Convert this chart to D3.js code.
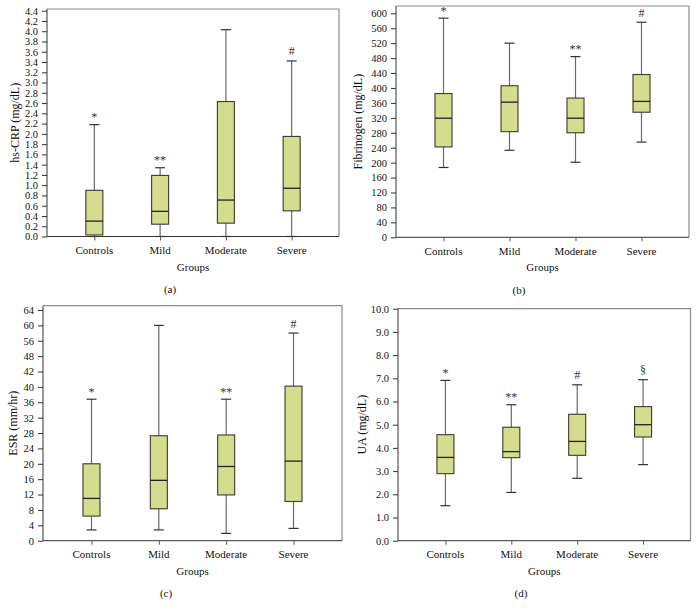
<!DOCTYPE html>
<html><head><meta charset="utf-8">
<script src="https://cdn.jsdelivr.net/npm/d3@7"></script>
<style>
body{margin:0;background:#fff;}
svg{display:block;font-family:"Liberation Serif","DejaVu Serif",serif;}
</style></head>
<body><svg id="c" width="698" height="614"></svg>
<script>
const groups = ["Controls","Mild","Moderate","Severe"];

// (a) hs-CRP
const crpMin = [0, 0, 0, 0];
const crpQ1  = [0.03, 0.24, 0.26, 0.50];
const crpMed = [0.30, 0.49, 0.71, 0.94];
const crpQ3  = [0.90, 1.19, 2.63, 1.95];
const crpMax = [2.18, 1.34, 4.03, 3.42];
const crpMarks = ["*", "**", "", "#"];
const crpTicks = [0,0.2,0.4,0.6,0.8,1.0,1.2,1.4,1.6,1.8,2.0,2.2,2.4,2.6,2.8,3.0,3.2,3.4,3.6,3.8,4.0,4.2,4.4];

// (b) Fibrinogen
const fibMin = [187, 233, 201, 255];
const fibQ1  = [242, 283, 280, 335];
const fibMed = [319, 362, 319, 364];
const fibQ3  = [385, 406, 373, 436];
const fibMax = [587, 520, 484, 576];
const fibMarks = ["*", "", "**", "#"];
const fibTicks = [0,40,80,120,160,200,240,280,320,360,400,440,480,520,560,600];

// (c) ESR (axis labels are unevenly valued but evenly spaced in the original)
const esrMin = [2.8, 2.8, 1.9, 3.2];
const esrQ1  = [6.4, 8.3, 11.9, 10.2];
const esrMed = [11.0, 15.7, 19.3, 20.7];
const esrQ3  = [20.0, 27.3, 27.5, 40.1];
const esrMax = [36.8, 60, 36.8, 58];
const esrMarks = ["*", "", "**", "#"];
const esrTicks = [0,4,8,12,16,20,24,28,32,36,40,42,48,56,60,64];

// (d) UA
const uaMin = [1.51, 2.08, 2.69, 3.28];
const uaQ1  = [2.89, 3.58, 3.68, 4.47];
const uaMed = [3.59, 3.84, 4.28, 5.00];
const uaQ3  = [4.57, 4.89, 5.45, 5.78];
const uaMax = [6.91, 5.86, 6.72, 6.94];
const uaMarks = ["*", "**", "#", "§"];
const uaTicks = [0,1,2,3,4,5,6,7,8,9,10];

const svg = d3.select("#c");
const fill = "#d4dc8e", boxStroke = "#3b3b2c", whiskStroke = "#6a6a6a";

function panel(cfg){
  const g = svg.append("g");
  const x = d3.scalePoint().domain(groups).range([cfg.left, cfg.right]).padding(0.72);
  let y;
  if (cfg.poly) {
    const n = cfg.ticks.length - 1;
    y = d3.scaleLinear().domain(cfg.ticks)
      .range(cfg.ticks.map((t,i)=> cfg.bottom - (cfg.bottom - cfg.tickTop) * i / n));
  } else {
    y = d3.scaleLinear().domain([0, cfg.ticks[cfg.ticks.length-1]]).range([cfg.bottom, cfg.tickTop]);
  }
  const top = cfg.frameTop;
  // frame top/right
  g.append("path").attr("d", `M${cfg.left},${top}H${cfg.right}V${cfg.bottom}`)
    .attr("fill","none").attr("stroke","#8c8c8c").attr("stroke-width",1.2);
  // y axis
  const ya = g.append("g").attr("transform",`translate(${cfg.left},0)`)
    .call(d3.axisLeft(y).tickValues(cfg.ticks).tickSize(5).tickPadding(4).tickFormat(cfg.fmt));
  ya.select(".domain").attr("d", `M0,${top}V${cfg.bottom}`).attr("stroke","#333");
  ya.selectAll(".tick line").attr("stroke","#333");
  ya.selectAll("text").attr("font-size",10.5).attr("fill","#111").attr("font-family","Liberation Serif");
  // x axis
  const xa = g.append("g").attr("transform",`translate(0,${cfg.bottom})`)
    .call(d3.axisBottom(x).tickSize(4).tickFormat(()=>""));
  xa.select(".domain").attr("d", `M${cfg.left},0H${cfg.right}`).attr("stroke","#333");
  xa.selectAll(".tick line").attr("stroke","#555");
  g.selectAll("text.xl").data(groups).enter().append("text").attr("class","xl")
    .attr("x", d=>x(d)).attr("y", cfg.bottom + 17.5).attr("text-anchor","middle")
    .attr("font-size",11).attr("fill","#111").text(d=>d);
  g.append("text").attr("x",(cfg.left+cfg.right)/2).attr("y",cfg.bottom+34)
    .attr("text-anchor","middle").attr("font-size",11).attr("fill","#111").text("Groups");
  g.append("text").attr("x",cfg.left+123).attr("y",cfg.bottom+56.5)
    .attr("text-anchor","middle").attr("font-size",11).attr("fill","#111").text(cfg.tag);
  g.append("text").attr("transform",`translate(${cfg.ylx},${(top+cfg.bottom)/2}) rotate(-90)`)
    .attr("text-anchor","middle").attr("dominant-baseline","central")
    .attr("font-size",12).attr("fill","#111").text(cfg.ylabel);

  const bw = 17, cw = 10;
  groups.forEach((grp,i)=>{
    const cx = x(grp);
    g.append("line").attr("x1",cx).attr("x2",cx).attr("y1",y(cfg.max[i])).attr("y2",y(cfg.q3[i]))
      .attr("stroke",whiskStroke).attr("stroke-width",1.2);
    g.append("line").attr("x1",cx).attr("x2",cx).attr("y1",y(cfg.q1[i])).attr("y2",y(cfg.min[i]))
      .attr("stroke",whiskStroke).attr("stroke-width",1.2);
    [cfg.max[i], cfg.min[i]].forEach(v=>{
      g.append("line").attr("x1",cx-cw/2).attr("x2",cx+cw/2).attr("y1",y(v)).attr("y2",y(v))
        .attr("stroke","#333").attr("stroke-width",1.2);
    });
    g.append("rect").attr("x",cx-bw/2).attr("width",bw)
      .attr("y",y(cfg.q3[i])).attr("height",y(cfg.q1[i])-y(cfg.q3[i]))
      .attr("fill",fill).attr("stroke",boxStroke).attr("stroke-width",1.1);
    g.append("line").attr("x1",cx-bw/2).attr("x2",cx+bw/2).attr("y1",y(cfg.med[i])).attr("y2",y(cfg.med[i]))
      .attr("stroke","#222").attr("stroke-width",1.3);
    if (cfg.marks[i]) {
      const m = cfg.marks[i];
      const off = m.startsWith("*") ? 3.5 : 5.5;
      g.append("text").attr("x",cx).attr("y",y(cfg.max[i]) - off).attr("text-anchor","middle")
        .attr("font-size",12).attr("fill","#333").text(m);
    }
  });
}

const f1 = d3.format(".1f");
panel({left:47,right:339,bottom:236.5,tickTop:10.7,frameTop:9,ticks:crpTicks,fmt:f1,
  min:crpMin,q1:crpQ1,med:crpMed,q3:crpQ3,max:crpMax,marks:crpMarks,tag:"(a)",ylabel:"hs-CRP (mg/dL)",ylx:15});
panel({left:396,right:689,bottom:237.3,tickTop:13.3,frameTop:6,ticks:fibTicks,fmt:d3.format("d"),
  min:fibMin,q1:fibQ1,med:fibMed,q3:fibQ3,max:fibMax,marks:fibMarks,tag:"(b)",ylabel:"Fibrinogen (mg/dL)",ylx:358});
panel({left:43,right:342,bottom:540.7,tickTop:310,frameTop:305.7,ticks:esrTicks,fmt:d3.format("d"),poly:true,
  min:esrMin,q1:esrQ1,med:esrMed,q3:esrQ3,max:esrMax,marks:esrMarks,tag:"(c)",ylabel:"ESR (mm/hr)",ylx:13});
panel({left:398,right:690.5,bottom:540.7,tickTop:308.7,frameTop:308.7,ticks:uaTicks,fmt:f1,
  min:uaMin,q1:uaQ1,med:uaMed,q3:uaQ3,max:uaMax,marks:uaMarks,tag:"(d)",ylabel:"UA (mg/dL)",ylx:362});
</script></body></html>
